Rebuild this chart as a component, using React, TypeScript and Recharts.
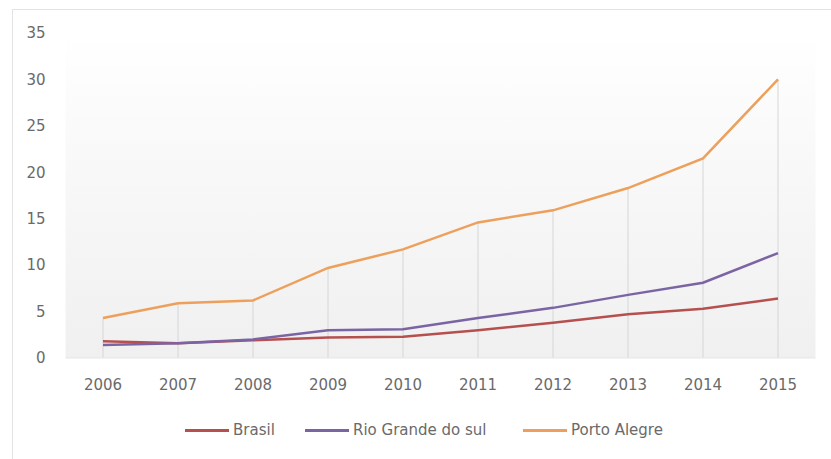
import React from "react";
import { LineChart, Line, XAxis, YAxis, CartesianGrid, ReferenceLine } from "recharts";

const years = ["2006", "2007", "2008", "2009", "2010", "2011", "2012", "2013", "2014", "2015"];
const brasil = [1.8, 1.6, 1.9, 2.2, 2.3, 3.0, 3.8, 4.7, 5.3, 6.4];
const rioGrandeDoSul = [1.4, 1.6, 2.0, 3.0, 3.1, 4.3, 5.4, 6.8, 8.1, 11.3];
const portoAlegre = [4.3, 5.9, 6.2, 9.7, 11.7, 14.6, 15.9, 18.3, 21.5, 30.0];
const yTicks = [0, 5, 10, 15, 20, 25, 30, 35];

const seriesNames = ["Brasil", "Rio Grande do sul", "Porto Alegre"];
const seriesColors = ["#b5504f", "#7a64a4", "#eda05c"];

const data = years.map((y, i) => ({
  year: y,
  brasil: brasil[i],
  rio: rioGrandeDoSul[i],
  porto: portoAlegre[i],
}));

const FONT = "'DejaVu Sans', sans-serif";
const TEXT = "#6a6a6a";

const legendX = [185, 305, 523];

export default function App() {
  return (
    <div style={{ position: "absolute", left: 0, top: 0, width: 831, height: 459, background: "#fff", overflow: "hidden" }}>
      <div
        style={{
          position: "absolute",
          left: 12,
          top: 9,
          width: 830,
          height: 460,
          border: "1px solid #e3e3e3",
          boxSizing: "border-box",
        }}
      />
      <div style={{ position: "absolute", left: 0, top: 0 }}>
        <LineChart
          width={831}
          height={459}
          data={data}
          margin={{ top: 33, right: 15.5, bottom: 51, left: 0 }}
        >
          <defs>
            <linearGradient id="plotBg" x1="0" y1="0" x2="0" y2="1">
              <stop offset="0" stopColor="#ffffff" />
              <stop offset="0.3" stopColor="#fafafa" />
              <stop offset="1" stopColor="#f0f0f0" />
            </linearGradient>
          </defs>
          <CartesianGrid horizontal={false} vertical={false} fill="url(#plotBg)" stroke="none" />
          <XAxis
            dataKey="year"
            height={50}
            padding={{ left: 37.5, right: 37.5 }}
            axisLine={{ stroke: "#e6e6e6" }}
            tickLine={false}
            tickSize={0}
            tickMargin={21}
            tick={{ fill: TEXT, fontSize: 15, fontFamily: FONT }}
            interval={0}
          />
          <YAxis
            width={65.5}
            domain={[0, 35]}
            ticks={yTicks}
            axisLine={false}
            tickLine={false}
            tickSize={0}
            tickMargin={20}
            tick={{ fill: TEXT, fontSize: 15, fontFamily: FONT }}
            interval={0}
          />
          {years.map((y, i) => (
            <ReferenceLine
              key={y}
              segment={[
                { x: y, y: 0 },
                { x: y, y: Math.max(brasil[i], rioGrandeDoSul[i], portoAlegre[i]) },
              ]}
              stroke="#d6d6d6"
              strokeWidth={1}
              ifOverflow="visible"
            />
          ))}
          <Line
            dataKey="brasil"
            name={seriesNames[0]}
            stroke={seriesColors[0]}
            strokeWidth={2.5}
            dot={false}
            isAnimationActive={false}
          />
          <Line
            dataKey="rio"
            name={seriesNames[1]}
            stroke={seriesColors[1]}
            strokeWidth={2.5}
            dot={false}
            isAnimationActive={false}
          />
          <Line
            dataKey="porto"
            name={seriesNames[2]}
            stroke={seriesColors[2]}
            strokeWidth={2.5}
            dot={false}
            isAnimationActive={false}
          />
        </LineChart>
      </div>
      {seriesNames.map((name, i) => (
        <div
          key={name}
          style={{
            position: "absolute",
            left: legendX[i],
            top: 420,
            height: 20,
            display: "flex",
            alignItems: "center",
            fontFamily: FONT,
            fontSize: 15,
            color: TEXT,
            whiteSpace: "nowrap",
          }}
        >
          <span style={{ display: "inline-block", width: 44, height: 3, background: seriesColors[i], marginRight: 4 }} />
          <span>{name}</span>
        </div>
      ))}
    </div>
  );
}
